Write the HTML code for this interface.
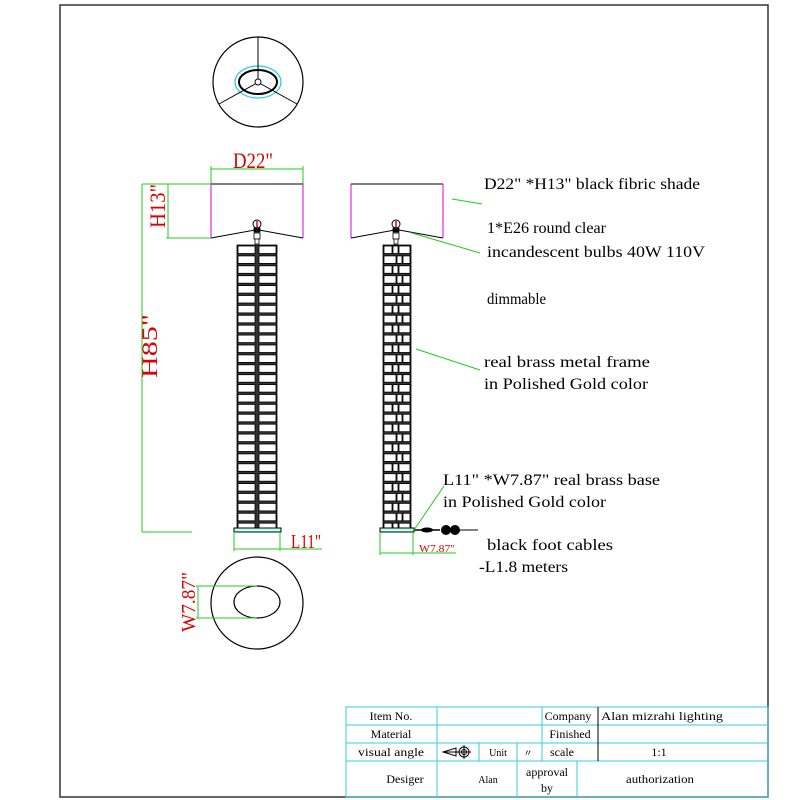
<!DOCTYPE html>
<html><head><meta charset="utf-8"><style>
body{margin:0;background:#fff}
svg{display:block}
text{font-family:"Liberation Serif","DejaVu Serif",serif}
</style></head><body>
<svg id="s" width="800" height="800" viewBox="0 0 800 800" xmlns="http://www.w3.org/2000/svg">
<rect x="60" y="5" width="708" height="792" fill="none" stroke="#333" stroke-width="1.5"/>
<circle cx="258" cy="82" r="45" fill="none" stroke="#000" stroke-width="1.2"/>
<ellipse cx="258" cy="82" rx="23" ry="16" fill="none" stroke="#2cd" stroke-width="1.2"/>
<ellipse cx="258" cy="82" rx="19" ry="12" fill="none" stroke="#000" stroke-width="2"/>
<line x1="258" y1="37" x2="258" y2="79" stroke="#000"/>
<line x1="255" y1="84" x2="219" y2="104" stroke="#000"/>
<line x1="261" y1="84" x2="297" y2="104" stroke="#000"/>
<circle cx="258" cy="82" r="3" fill="#fff" stroke="#000"/>
<line x1="211" y1="169" x2="303" y2="169" stroke="#2c2" />
<line x1="211" y1="166" x2="211" y2="184" stroke="#2c2"/>
<line x1="303" y1="166" x2="303" y2="184" stroke="#2c2"/>
<text x="233" y="168" font-family="Liberation Sans" font-size="22" fill="#d00" textLength="40" lengthAdjust="spacingAndGlyphs">D22"</text>
<line x1="211" y1="184" x2="303" y2="184" stroke="#000"/>
<line x1="211" y1="184" x2="211" y2="238" stroke="#d0d"/>
<line x1="303" y1="184" x2="303" y2="238" stroke="#d0d"/>
<polyline points="211,238 255,230 259,230 303,238" fill="none" stroke="#000"/>
<line x1="142" y1="184" x2="211" y2="184" stroke="#2c2"/>
<line x1="166" y1="238" x2="211" y2="238" stroke="#2c2"/>
<line x1="168" y1="184" x2="168" y2="238" stroke="#2c2"/>
<line x1="142" y1="184" x2="142" y2="532" stroke="#2c2"/>
<line x1="142" y1="532" x2="192" y2="532" stroke="#2c2"/>
<text transform="translate(165,228) rotate(-90)" font-size="22" fill="#d00" textLength="44" lengthAdjust="spacingAndGlyphs">H13"</text>
<text transform="translate(157,378) rotate(-90)" font-size="22" fill="#d00" textLength="64" lengthAdjust="spacingAndGlyphs">H85"</text>
<line x1="351" y1="184" x2="443" y2="184" stroke="#000"/>
<line x1="351" y1="184" x2="351" y2="238" stroke="#d0d"/>
<line x1="443" y1="184" x2="443" y2="238" stroke="#d0d"/>
<polyline points="351,238 395,230 399,230 443,238" fill="none" stroke="#000"/>
<g id="cols"></g>
<rect x="234" y="528" width="47" height="4" fill="#bfe" stroke="#000"/>
<line x1="234" y1="532" x2="234" y2="551" stroke="#2c2"/>
<line x1="280" y1="532" x2="280" y2="551" stroke="#2c2"/>
<line x1="234" y1="549" x2="322" y2="549" stroke="#2c2"/>
<text x="291" y="548" font-family="Liberation Sans" font-size="20" fill="#d00" textLength="30" lengthAdjust="spacingAndGlyphs">L11"</text>
<rect x="380" y="528" width="34" height="4" fill="#bfe" stroke="#000"/>
<line x1="380" y1="532" x2="380" y2="555" stroke="#2c2"/>
<line x1="413" y1="532" x2="413" y2="555" stroke="#2c2"/>
<line x1="380" y1="553" x2="456" y2="553" stroke="#2c2"/>
<text x="419" y="552" font-family="Liberation Sans" font-size="11" fill="#d00" textLength="36" lengthAdjust="spacingAndGlyphs">W7.87"</text>
<line x1="414" y1="530" x2="440" y2="530" stroke="#000" stroke-width="1.5"/>
<ellipse cx="427" cy="530" rx="6" ry="2.5" fill="#000"/>
<circle cx="446" cy="530" r="5" fill="#000"/><circle cx="455" cy="530" r="5" fill="#000"/>
<line x1="460" y1="530" x2="478" y2="530" stroke="#000"/>
<line x1="414" y1="530" x2="444" y2="486" stroke="#2c2"/>
<circle cx="257" cy="603" r="46" fill="none" stroke="#000" stroke-width="1.2"/>
<ellipse cx="257" cy="602" rx="23" ry="16" fill="none" stroke="#000" stroke-width="1.2"/>
<line x1="196" y1="586" x2="257" y2="586" stroke="#2c2"/>
<line x1="196" y1="618" x2="257" y2="618" stroke="#2c2"/>
<line x1="198" y1="586" x2="198" y2="618" stroke="#2c2"/>
<text transform="translate(195,632) rotate(-90)" font-size="20" fill="#d00" textLength="60" lengthAdjust="spacingAndGlyphs">W7.87"</text>
<line x1="452" y1="199" x2="482" y2="204" stroke="#2c2"/>
<line x1="412" y1="233" x2="480" y2="253" stroke="#2c2"/>
<line x1="416" y1="349" x2="480" y2="370" stroke="#2c2"/>
<g font-size="16" fill="#000" lengthAdjust="spacingAndGlyphs">
<text x="484" y="189" textLength="216" lengthAdjust="spacingAndGlyphs">D22" *H13" black fibric shade</text>
<text x="487" y="233" textLength="119" lengthAdjust="spacingAndGlyphs">1*E26 round  clear</text>
<text x="487" y="257" textLength="218" lengthAdjust="spacingAndGlyphs">incandescent  bulbs  40W 110V</text>
<text x="487" y="304" textLength="59" lengthAdjust="spacingAndGlyphs">dimmable</text>
<text x="484" y="367" textLength="166" lengthAdjust="spacingAndGlyphs">real brass metal frame</text>
<text x="484" y="389" textLength="164" lengthAdjust="spacingAndGlyphs">in Polished Gold color</text>
<text x="443" y="485" textLength="217" lengthAdjust="spacingAndGlyphs">L11" *W7.87"  real brass base</text>
<text x="443" y="507" textLength="163" lengthAdjust="spacingAndGlyphs">in Polished Gold color</text>
<text x="487" y="550" textLength="126" lengthAdjust="spacingAndGlyphs">black foot cables</text>
<text x="479" y="572" textLength="89" lengthAdjust="spacingAndGlyphs">-L1.8 meters</text>
</g>
<g stroke="#3cd" stroke-width="1" fill="none">
<rect x="346" y="707" width="422" height="90"/>
<line x1="346" y1="725" x2="768" y2="725"/>
<line x1="346" y1="743" x2="768" y2="743"/>
<line x1="346" y1="761" x2="768" y2="761"/>
<line x1="437" y1="707" x2="437" y2="797"/>
<line x1="542" y1="707" x2="542" y2="761"/>
<line x1="479" y1="743" x2="479" y2="761"/>
<line x1="517" y1="743" x2="517" y2="797"/>
<line x1="577" y1="761" x2="577" y2="797"/>
</g>
<line x1="598" y1="707" x2="598" y2="761" stroke="#000"/>
<g font-size="12" fill="#000" text-anchor="middle">
<text x="391" y="720">Item No.</text>
<text x="568" y="720">Company</text>
<text x="662" y="720" textLength="122" lengthAdjust="spacingAndGlyphs">Alan mizrahi lighting</text>
<text x="391" y="738">Material</text>
<text x="570" y="738">Finished</text>
<text x="391" y="756" textLength="66" lengthAdjust="spacingAndGlyphs">visual angle</text>
<text x="498" y="756" font-size="10">Unit</text>
<text x="528" y="756" font-size="9">〃</text>
<text x="562" y="756">scale</text>
<text x="659" y="756">1:1</text>
<text x="405" y="783">Desiger</text>
<text x="488" y="783" font-size="10">Alan</text>
<text x="547" y="776">approval</text>
<text x="547" y="792">by</text>
<text x="660" y="783" textLength="68" lengthAdjust="spacingAndGlyphs">authorization</text>
</g>
<polygon points="443,752 456,748 456,756" fill="none" stroke="#000"/>
<line x1="443" y1="752" x2="458" y2="752" stroke="#000"/>
<circle cx="464" cy="752" r="5" fill="none" stroke="#000"/><circle cx="464" cy="752" r="2.5" fill="none" stroke="#000"/>
<line x1="457" y1="752" x2="471" y2="752" stroke="#000"/><line x1="464" y1="745" x2="464" y2="759" stroke="#000"/>
</svg>
<script>
var g=document.getElementById('cols'),h='';
function r(x,y,w,hh,f){h+='<rect x="'+x+'" y="'+y+'" width="'+w+'" height="'+hh+'" fill="'+f+'" stroke="#000" stroke-width="0.8"/>';}
[257,396].forEach(function(c){
 h+='<circle cx="'+c+'" cy="224" r="4" fill="#fff" stroke="#000"/><line x1="'+c+'" y1="221" x2="'+c+'" y2="228" stroke="#d00" stroke-width="1.5"/>';
 r(c-3,228,6,4,'#000');r(c-3,233,6,6,'#fff');r(c-2,239,4,5,'#fff');
});
r(237,245,40,283,'#333');
for(var y=246;y<527;y+=9.9){r(238,y,17,7.5,'#fff');r(259,y,17,7.5,'#fff');}
r(383,245,28,283,'#333');
var i=0;
for(var y=246;y<527;y+=9.9,i++){
 if(i%2==0){r(384,y,8,7.5,'#fff');r(393,y,5,7.5,'#fff');r(399,y,11,7.5,'#fff');}
 else{r(384,y,12,7.5,'#fff');r(397,y,5,7.5,'#fff');r(403,y,7,7.5,'#fff');}
}
g.innerHTML=h;
</script>
</body></html>
